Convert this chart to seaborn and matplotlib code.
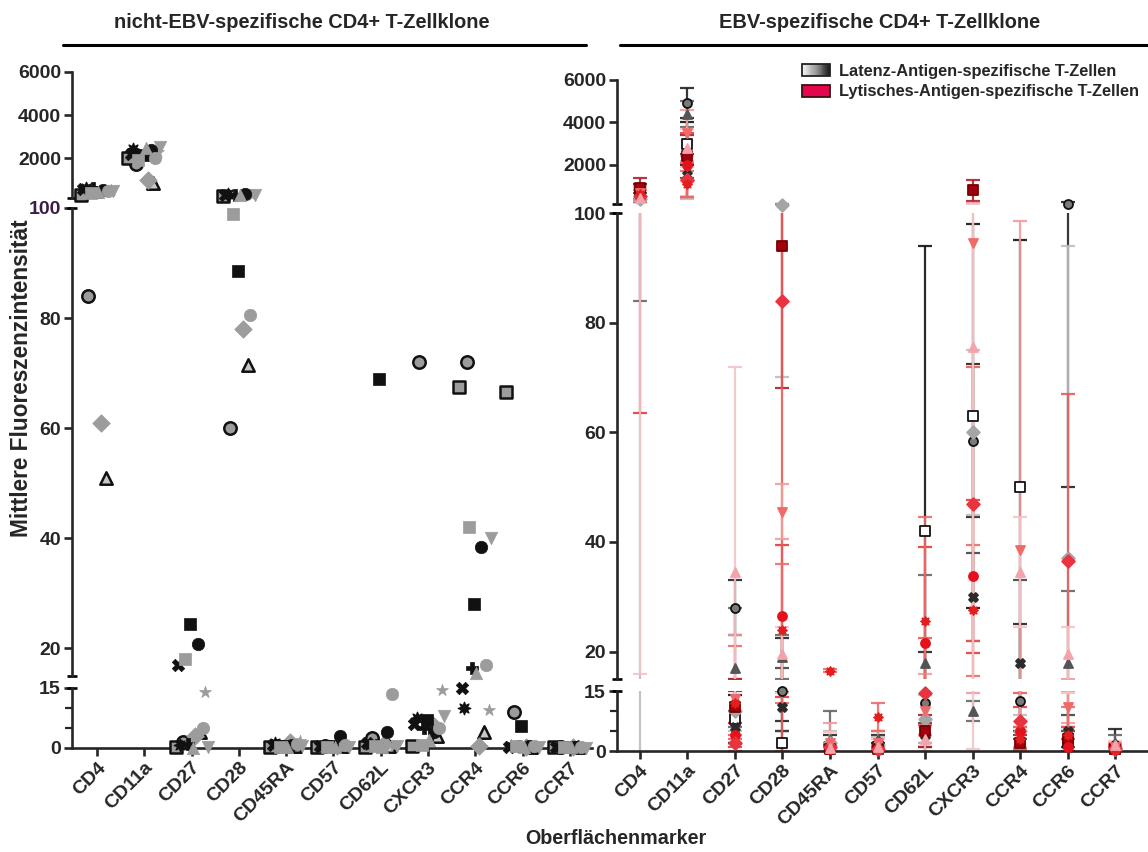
import numpy as np
import pandas as pd
import matplotlib
matplotlib.use("Agg")
import matplotlib.pyplot as plt
from matplotlib.lines import Line2D
from matplotlib.patches import Rectangle, Patch
from matplotlib.legend_handler import HandlerBase
from matplotlib.colors import LinearSegmentedColormap
import seaborn as sns

# ---------------------------------------------------------------- data
markers = ["CD4", "CD11a", "CD27", "CD28", "CD45RA", "CD57",
           "CD62L", "CXCR3", "CCR4", "CCR6", "CCR7"]

# non-EBV-specific clones: MFI per surface marker (order as in `markers`)
k01 = [84, 1700, 1.5, 60, 0.5, 0.5, 2.5, 72, 72, 9, 0.2]
k02 = [300, 2000, 0.2, 250, 0.3, 0.3, 0.3, 0.4, 67.5, 66.5, 0.3]
k03 = [51, 850, 4, 71.5, 0.6, 0.4, 0.5, 3, 4, 0.3, 0.3]
k04 = [61, 1000, 3, 78, 1.5, 0.5, 1, 6, 0.5, 0.3, 0.2]
k05 = [500, 2300, 14, 300, 1.8, 0.8, 0.6, 14.5, 9.5, 0.4, 0.3]
k06 = [550, 2200, 17, 280, 0.8, 0.5, 1.2, 6, 15, 0.3, 0.2]
k07 = [600, 2100, 1, 300, 0.5, 0.4, 0.8, 5, 16.5, 0.5, 0.2]
k08 = [620, 2400, 0.8, 320, 1.2, 0.3, 0.7, 7.5, 10, 0.4, 0.2]
k09 = [450, 2500, 0.3, 290, 0.4, 0.3, 0.4, 8, 40, 0.3, 0.1]
k10 = [520, 2350, 20.8, 310, 0.8, 3, 4, 4, 38.5, 0.4, 0.2]
k11 = [400, 2150, 24.5, 88.5, 0.4, 0.6, 69, 7, 28, 5.5, 0.2]
k12 = [480, 2000, 5, 80.5, 1, 0.7, 13.5, 5, 17, 0.6, 0.3]
k13 = [350, 1900, 18, 99, 0.3, 0.2, 0.6, 0.8, 42, 0.5, 0.2]
k14 = [400, 2450, 0.1, 260, 0.2, 0.2, 0.3, 2, 15.5, 0.3, 0.3]
nonebv_clones = [k01, k02, k03, k04, k05, k06, k07, k08, k09, k10, k11, k12, k13, k14]

# EBV-specific clones: mean and SD per surface marker
# latent-antigen specific
la_mean = [700, 4900, 28, 15, 1.5, 2, 12, 58.5, 12.5, 150, 1.5]
la_sd = [400, 700, 5, 7.5, 2.5, 2, 8, 14, 12.5, 100, 4]
lb_mean = [600, 3000, 8, 2, 1, 1, 42, 63, 50, 2, 0.5]
lb_sd = [250, 1000, 6, 3, 1, 1, 52, 35, 45, 3, 1]
lc_mean = [500, 4400, 17, 19, 3, 3, 18, 10, 3, 18, 2]
lc_sd = [416, 600, 11, 4, 7, 2, 16, 2.5, 3, 13, 2]
ld_mean = [450, 1500, 6, 11, 0.5, 0.5, 4, 30, 18, 5, 1]
ld_sd = [200, 1000, 4, 6, 1, 1, 3, 8, 15, 4, 1]
le_mean = [400, 1300, 10, 110, 2, 1.5, 8, 60, 5, 37, 0.5]
le_sd = [450, 900, 5, 40, 3, 2, 6, 15, 4, 57, 1]
# lytic-antigen specific
ra_mean = [900, 2400, 11, 94, 0.5, 0.5, 5, 800, 2, 3, 0.5]
ra_sd = [500, 1000, 4, 26, 1, 0.5, 4, 500, 2, 3, 0.5]
rb_mean = [500, 2000, 4, 26.5, 0.5, 0.3, 21.5, 33.7, 5, 1, 0.3]
rb_sd = [436.5, 1500, 3, 13, 0.5, 0.5, 17.5, 14, 6, 2, 0.5]
rc_mean = [550, 1300, 2, 84, 1, 0.5, 14.5, 47, 7.5, 36.5, 0.8]
rc_sd = [300, 800, 2, 84, 1, 1, 8, 25, 7, 30.5, 1]
rd_mean = [650, 3500, 13, 45.5, 2, 2, 10, 94.5, 38.5, 11, 1]
rd_sd = [350, 1100, 10, 5, 5, 3, 6, 80, 60, 4, 1]
re_mean = [600, 1100, 12, 24, 16.5, 8.5, 25.5, 27.5, 3, 4, 0.5]
re_sd = [200, 600, 9, 12, 0.3, 3.5, 19, 12, 3, 7, 1]
rf_mean = [450, 2800, 34.5, 19.5, 0.8, 1, 3, 75.5, 34.5, 19.5, 1.5]
rf_sd = [434, 900, 37.5, 5, 4, 2, 3, 75, 10, 5, 1]

ebv_names = ["LA", "LB", "LC", "LD", "LE", "RA", "RB", "RC", "RD", "RE", "RF"]
ebv_means = [la_mean, lb_mean, lc_mean, ld_mean, le_mean,
             ra_mean, rb_mean, rc_mean, rd_mean, re_mean, rf_mean]
ebv_sds = [la_sd, lb_sd, lc_sd, ld_sd, le_sd,
           ra_sd, rb_sd, rc_sd, rd_sd, re_sd, rf_sd]

title_left = "nicht-EBV-spezifische CD4+ T-Zellklone"
title_right = "EBV-spezifische CD4+ T-Zellklone"
ylabel = "Mittlere Fluoreszenzintensität"
xlabel = "Oberflächenmarker"
legend_labels = ["Latenz-Antigen-spezifische T-Zellen",
                 "Lytisches-Antigen-spezifische T-Zellen"]

# ---------------------------------------------------------------- styles
GRAY = "#9c9c9c"
BLACK = "#111111"
AST = (8, 1, 0)
# (marker, face, edge, edge width)
nonebv_styles = [
    ("o", GRAY, BLACK, 1.8), ("s", GRAY, BLACK, 1.8), ("^", "#c8c8c8", BLACK, 1.8),
    ("D", GRAY, GRAY, 0.5), ("*", GRAY, GRAY, 0.5), ("X", BLACK, BLACK, 0.5),
    ("P", BLACK, BLACK, 0.5), (AST, BLACK, BLACK, 1.0), ("v", GRAY, GRAY, 0.5),
    ("o", BLACK, BLACK, 0.5), ("s", BLACK, BLACK, 0.5), ("o", GRAY, GRAY, 0.5),
    ("s", GRAY, GRAY, 0.5), ("^", GRAY, GRAY, 0.5),
]
nonebv_order = [3, 0, 10, 8, 12, 1, 5, 2, 13, 9, 6, 11, 4, 7]

# (marker, face, edge, errorbar colour)
ebv_styles = [
    ("o", "#7a7a7a", BLACK, "#222222"),
    ("s", "#ffffff", BLACK, "#111111"),
    ("^", "#555555", "#555555", "#666666"),
    ("X", "#2b2b2b", "#2b2b2b", "#444444"),
    ("D", "#a5a5a5", "#a5a5a5", "#bdbdbd"),
    ("s", "#a0000f", "#7a0000", "#b02030"),
    ("o", "#e5121c", "#e5121c", "#e83a3a"),
    ("D", "#e83440", "#e83440", "#ec5a5a"),
    ("v", "#f06a6a", "#f06a6a", "#f39a9a"),
    (AST, "#e41e1e", "#e41e1e", "#ef6a6a"),
    ("^", "#f4a3aa", "#f4a3aa", "#f2c4c6"),
]

W, H = 1148, 852
FS_TICK = 14
sns.set_style("ticks")
plt.rcParams["font.family"] = ["Liberation Sans", "DejaVu Sans"]
plt.rcParams["font.weight"] = "bold"
plt.rcParams["axes.linewidth"] = 1.9

fig = plt.figure(figsize=(W / 100, H / 100), dpi=100)


def frac_box(left, right, top, bottom):
    return [left / W, 1 - bottom / H, (right - left) / W, (bottom - top) / H]


def make_panel(left, right, segs, xlim):
    axes = []
    for i, (top, bottom, lim) in enumerate(segs):
        ax = fig.add_axes(frac_box(left, right, top, bottom))
        ax.set_ylim(*lim)
        ax.set_xlim(*xlim)
        ax.patch.set_alpha(0)
        for s in ("top", "right"):
            ax.spines[s].set_visible(False)
        ax.tick_params(axis="both", which="major", length=6, width=1.9,
                       labelsize=FS_TICK, direction="out", pad=2)
        ax.tick_params(axis="y", which="minor", length=5, width=1.6)
        if i < len(segs) - 1:
            ax.spines["bottom"].set_visible(False)
            ax.set_xticks([])
        axes.append(ax)
    # tick layout of the three y segments
    axes[0].set_yticks([2000, 4000, 6000])
    axes[1].set_yticks([20, 40, 60, 80, 100])
    axes[2].set_yticks([0, 15])
    axes[2].set_yticks([5, 10], minor=True)
    axes[2].set_xticks(range(len(markers)))
    axes[2].set_xticklabels(markers, rotation=45, ha="right",
                            rotation_mode="anchor", fontsize=FS_TICK)
    # break caps at the segment joints
    for ax, ends in ((axes[0], [0]), (axes[1], [0, 1]), (axes[2], [1])):
        w_px = right - left
        d = 5 / w_px
        for e in ends:
            ax.plot([-d, d], [e, e], transform=ax.transAxes, color="black",
                    lw=1.9, clip_on=False, solid_capstyle="butt")
    return axes


def segment_of(v, cut_low=15, cut_high=100):
    if v <= cut_low:
        return 2
    if v <= cut_high:
        return 1
    return 0


# ---------------------------------------------------------------- left panel
left_axes = make_panel(
    72, 592,
    [(72, 198, (140, 6000)), (208, 676, (15, 100)), (688, 748, (0, 15))],
    (-0.53, 10.47))

n_k = len(nonebv_clones)
offsets = np.linspace(-0.34, 0.34, n_k)
rows = []
for ci, vals in enumerate(nonebv_clones):
    for mi, v in enumerate(vals):
        rows.append({"clone": ci, "marker": markers[mi], "code": mi, "value": v,
                     "xpos": mi + offsets[nonebv_order[ci]],
                     "seg": segment_of(v)})
df_left = pd.DataFrame(rows)

for ci in range(n_k):
    m, face, edge, lw = nonebv_styles[ci]
    for si, ax in enumerate(left_axes):
        sub = df_left[(df_left.clone == ci) & (df_left.seg == si)]
        if sub.empty:
            continue
        sns.scatterplot(data=sub, x="xpos", y="value", ax=ax, marker=m,
                        color=face, edgecolor=edge, linewidth=lw, s=80,
                        clip_on=False, zorder=3, legend=False)

# ---------------------------------------------------------------- right panel
right_axes = make_panel(
    617, 1148,
    [(80, 204, (150, 6000)), (213, 679, (15, 100)), (691, 751, (0, 15))],
    (-0.48, 10.69))

rows = []
for ci, (mu, sd) in enumerate(zip(ebv_means, ebv_sds)):
    for mi in range(len(markers)):
        rows.append({"clone": ebv_names[ci], "marker": markers[mi], "code": mi,
                     "mean": mu[mi], "sd": sd[mi], "seg": segment_of(mu[mi])})
df_right = pd.DataFrame(rows)
df_right["lo"] = df_right["mean"] - df_right["sd"]
df_right["hi"] = df_right["mean"] + df_right["sd"]

# SD whiskers on every segment; caps only where they fall inside a segment
for ci, name in enumerate(ebv_names):
    m, face, edge, ecol = ebv_styles[ci]
    cd = df_right[df_right.clone == name]
    for ax in right_axes:
        y0, y1 = ax.get_ylim()
        ax.errorbar(cd["code"], cd["mean"], yerr=cd["sd"], fmt="none",
                    ecolor=ecol, elinewidth=1.6, capsize=0, alpha=0.9, zorder=2)
        for col in ("lo", "hi"):
            inside = cd[(cd[col] >= y0) & (cd[col] <= y1)]
            if inside.empty:
                continue
            ax.plot(inside["code"], inside[col], ls="none", marker="_",
                    ms=10, mew=1.6, color=ecol, alpha=0.9, zorder=2)

for ci, name in enumerate(ebv_names):
    m, face, edge, ecol = ebv_styles[ci]
    for si, ax in enumerate(right_axes):
        sub = df_right[(df_right.clone == name) & (df_right.seg == si)]
        if sub.empty:
            continue
        sns.scatterplot(data=sub, x="code", y="mean", ax=ax, marker=m,
                        color=face, edgecolor=edge, linewidth=1.3, s=42,
                        clip_on=False, zorder=4, legend=False)

for ax in left_axes + right_axes:
    ax.set_xlabel("")
    ax.set_ylabel("")

# "100" label of the left panel is printed in a dark violet
for lab in left_axes[1].get_yticklabels():
    if lab.get_text() == "100":
        lab.set_color("#3a1c45")

# ---------------------------------------------------------------- legend
class GradientHandler(HandlerBase):
    def __init__(self, cmap):
        super().__init__()
        self.cmap = cmap

    def create_artists(self, legend, orig_handle, xdescent, ydescent,
                       width, height, fontsize, trans):
        n = 30
        arts = []
        for i in range(n):
            arts.append(Rectangle((-xdescent + i * width / n, -ydescent),
                                  width / n + 0.4, height,
                                  facecolor=self.cmap(i / (n - 1)),
                                  edgecolor="none", transform=trans))
        arts.append(Rectangle((-xdescent, -ydescent), width, height,
                              facecolor="none", edgecolor="#222222", lw=1.3,
                              transform=trans))
        return arts


grad = LinearSegmentedColormap.from_list("lat", ["#f4f4f4", "#9a9a9a", "#1a1a1a"])
h_lat = Patch(facecolor="#888888")
h_lyt = Patch(facecolor="#e3064c", edgecolor="#3a1010", linewidth=1.3)
fig.legend([h_lat, h_lyt], legend_labels, handler_map={h_lat: GradientHandler(grad)},
           loc="upper left", bbox_to_anchor=(802 / W, 1 - 64 / H), frameon=False,
           prop={"size": 11.8, "weight": "bold"}, handlelength=1.7, handleheight=0.75,
           handletextpad=0.55, labelspacing=0.32, borderaxespad=0, borderpad=0)

# ---------------------------------------------------------------- headings
fig.text(302 / W, 1 - 22 / H, title_left, ha="center", va="center",
         fontsize=14.4, fontweight="bold")
fig.text(880 / W, 1 - 22 / H, title_right, ha="center", va="center",
         fontsize=14.4, fontweight="bold")
fig.add_artist(Line2D([63 / W, 586 / W], [1 - 45 / H] * 2, color="black", lw=2.2))
fig.add_artist(Line2D([620 / W, 1148 / W], [1 - 45 / H] * 2, color="black", lw=2.2))

fig.text(22 / W, 1 - 378 / H, ylabel, rotation=90, ha="center", va="center",
         fontsize=16.3, fontweight="bold")
fig.text(616 / W, 1 - 838 / H, xlabel, ha="center", va="center",
         fontsize=14.2, fontweight="bold")

fig.savefig("out.png", dpi=100)
